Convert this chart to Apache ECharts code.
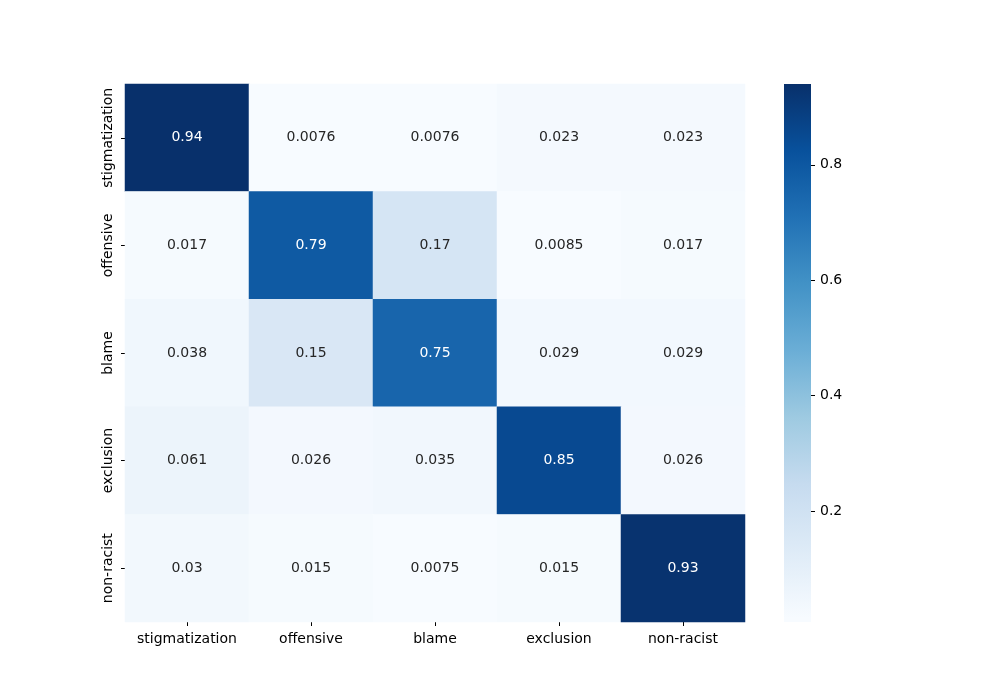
<!DOCTYPE html>
<html>
<head>
<meta charset="utf-8">
<script src="https://cdn.jsdelivr.net/npm/echarts@6/dist/echarts.min.js"></script>
<style>
  html, body { margin: 0; padding: 0; background: #fff; }
  #chart { width: 1000px; height: 700px; }
</style>
</head>
<body>
<div id="chart"></div>
<script>
// confusion matrix, rows = true label, cols = predicted
const labels = ["stigmatization", "offensive", "blame", "exclusion", "non-racist"];
const rowStigmatization = [0.94, 0.0076, 0.0076, 0.023, 0.023];
const rowOffensive = [0.017, 0.79, 0.17, 0.0085, 0.017];
const rowBlame = [0.038, 0.15, 0.75, 0.029, 0.029];
const rowExclusion = [0.061, 0.026, 0.035, 0.85, 0.026];
const rowNonRacist = [0.03, 0.015, 0.0075, 0.015, 0.93];
const colorbarTicks = [0.2, 0.4, 0.6, 0.8];

const rows = [rowStigmatization, rowOffensive, rowBlame, rowExclusion, rowNonRacist];
const allVals = rows.flat();
const vMin = Math.min(...allVals);
const vMax = Math.max(...allVals);

const blues = ['#f7fbff', '#deebf7', '#c6dbef', '#9ecae1', '#6baed6',
               '#4292c6', '#2171b5', '#08519c', '#08306b'];

const data = [];
rows.forEach((r, yi) => {
    r.forEach((v, xi) => {
        data.push({
            value: [xi, yi, v],
            label: { color: v > 0.5 ? '#ffffff' : '#262626' }
        });
    });
});

// colorbar gradient: bar runs 0..vMax (clipped at vMin), colormap spans vMin..vMax
const cbStops = blues.map((c, i) => {
    const t = vMin + i / (blues.length - 1) * (vMax - vMin);
    return { offset: (vMax - t) / vMax, color: c };
}).reverse();

const font = 'DejaVu Sans';

echarts.init(document.getElementById('chart')).setOption({
    animation: false,
    textStyle: { fontFamily: font },
    grid: [
        { left: 125, top: 84, width: 620, height: 538 },
        { left: 784, top: 84, width: 27, height: 538 }
    ],
    xAxis: [{
        type: 'category',
        data: labels,
        gridIndex: 0,
        axisLine: { show: false },
        axisTick: { show: true, length: 4, alignWithLabel: true, lineStyle: { color: '#000' } },
        axisLabel: { fontSize: 14, color: '#000', margin: 10, interval: 0, fontFamily: font },
        splitLine: { show: false }
    }, {
        type: 'category',
        data: ['cb'],
        gridIndex: 1,
        show: false
    }],
    yAxis: [{
        type: 'category',
        data: labels,
        inverse: true,
        gridIndex: 0,
        axisLine: { show: false },
        axisTick: { show: true, length: 4, alignWithLabel: true, lineStyle: { color: '#000' } },
        axisLabel: { fontSize: 14, color: '#000', rotate: 90, margin: 10, interval: 0, fontFamily: font },
        splitLine: { show: false }
    }, {
        type: 'value',
        gridIndex: 1,
        position: 'right',
        min: vMin,
        max: vMax,
        axisLine: { show: false },
        axisTick: { show: true, length: 4, customValues: colorbarTicks, lineStyle: { color: '#000' } },
        axisLabel: {
            fontSize: 14, color: '#000', margin: 9, fontFamily: font,
            customValues: colorbarTicks,
            formatter: v => v.toFixed(1)
        },
        splitLine: { show: false }
    }],
    visualMap: {
        type: 'continuous',
        show: false,
        min: vMin,
        max: vMax,
        seriesIndex: 0,
        inRange: { color: blues }
    },
    series: [{
        type: 'heatmap',
        xAxisIndex: 0,
        yAxisIndex: 0,
        data: data,
        label: {
            show: true,
            fontSize: 14,
            fontFamily: font,
            formatter: p => String(p.value[2])
        },
        emphasis: { disabled: true }
    }, {
        type: 'bar',
        xAxisIndex: 1,
        yAxisIndex: 1,
        data: [vMax],
        barWidth: '100%',
        clip: true,
        silent: true,
        itemStyle: {
            color: new echarts.graphic.LinearGradient(0, 0, 0, 1, cbStops)
        }
    }]
});
</script>
</body>
</html>
